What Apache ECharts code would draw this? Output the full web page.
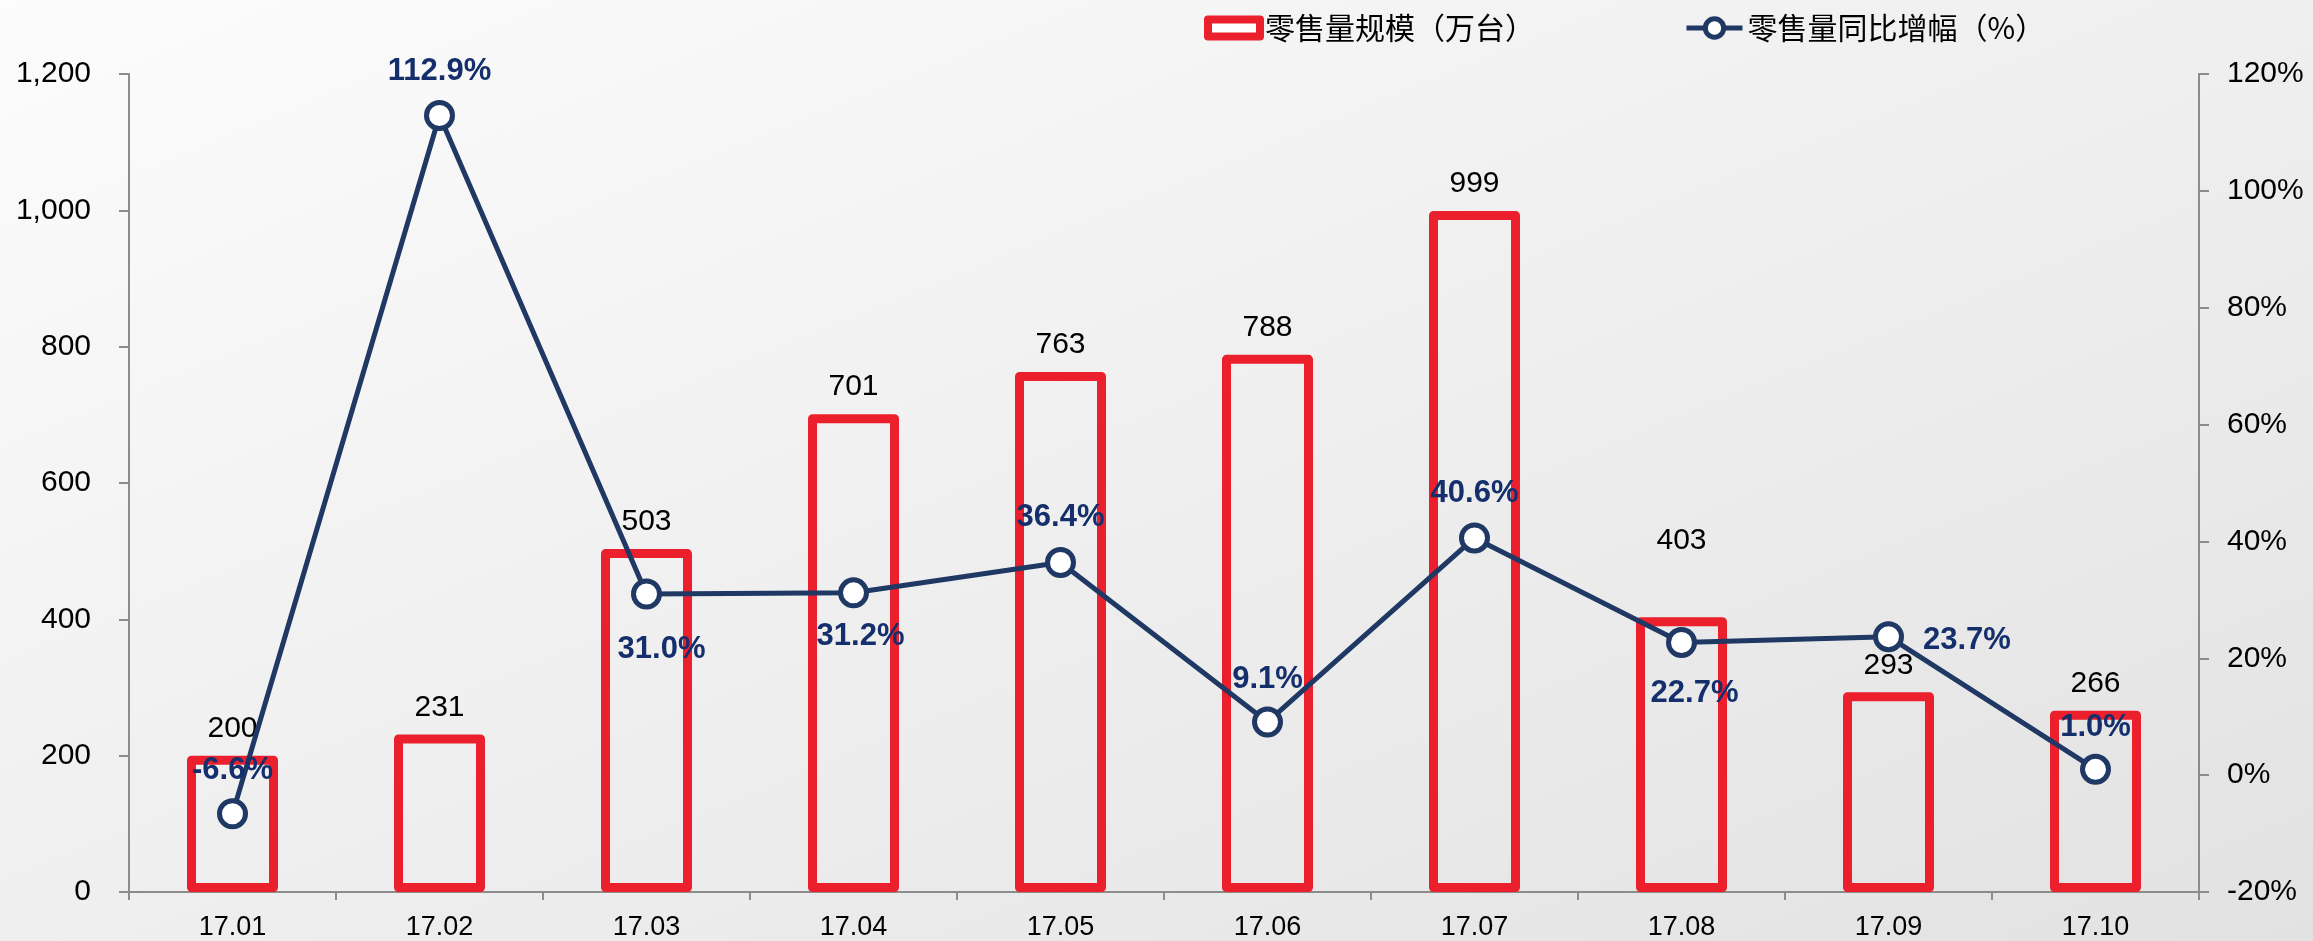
<!DOCTYPE html>
<html>
<head>
<meta charset="utf-8">
<script src="https://cdn.jsdelivr.net/npm/echarts@6/dist/echarts.min.js"></script>
<style>
html, body {
    margin: 0;
    padding: 0;
    width: 2313px;
    height: 941px;
    overflow: hidden;
    /* 浅灰渐变背景 */
    background: linear-gradient(to bottom right, #fcfcfc, #e2e2e2);
}
#main {
    width: 2313px;
    height: 941px;
}
</style>
</head>
<body>
<div id="main"></div>
<script>
// 月份
var months = ["17.01", "17.02", "17.03", "17.04", "17.05", "17.06", "17.07", "17.08", "17.09", "17.10"];
// 零售量规模（万台）
var retailVolume = [200, 231, 503, 701, 763, 788, 999, 403, 293, 266];
// 零售量同比增幅（%）
var yoyGrowth = [-6.6, 112.9, 31.0, 31.2, 36.4, 9.1, 40.6, 22.7, 23.7, 1.0];

var legendNames = ["零售量规模（万台）", "零售量同比增幅（%）"];

var RED = "#ec1f2d";
var NAVY = "#1f3864";
var LABEL_NAVY = "#142f6b";
var FONT = "Liberation Sans, Arial, sans-serif";
var CJK = "Noto Sans CJK SC";

// 折线标签的位置（避开折线和柱子）
var linePlace = [
    { position: "top", distance: 12 },
    { position: "top", distance: 13 },
    { position: "bottom", distance: 24, offset: [15, 0] },
    { position: "bottom", distance: 13, offset: [7, 0] },
    { position: "top", distance: 14 },
    { position: "top", distance: 12 },
    { position: "top", distance: 13 },
    { position: "bottom", distance: 20, offset: [13, 0] },
    { position: "right", distance: 19, offset: [0, 4] },
    { position: "top", distance: 11 }
];

var barData = retailVolume.map(function (v, i) {
    var item = { value: v };
    // 17.08 的数值标签被抬高了
    if (i === 7) {
        item.label = { offset: [0, -50] };
    }
    return item;
});

var lineData = yoyGrowth.map(function (v, i) {
    return { value: v, label: linePlace[i] };
});

var chart = echarts.init(document.getElementById("main"));

var legendText = { color: "#000", fontSize: 30, fontFamily: CJK };

var option = {
    backgroundColor: "transparent",
    animation: false,
    textStyle: { fontFamily: FONT },
    // 两个图例图标大小不同，所以分成两个 legend
    legend: [
        {
            left: 1204,
            top: 13,
            padding: 0,
            itemWidth: 52,
            itemHeight: 17,
            textStyle: legendText,
            data: [{
                name: legendNames[0],
                icon: "rect",
                itemStyle: { color: "#fff", borderColor: RED, borderWidth: 8 }
            }]
        },
        {
            left: 1684,
            top: 13,
            padding: 0,
            itemWidth: 56,
            itemHeight: 23,
            textStyle: legendText,
            data: [{
                name: legendNames[1],
                lineStyle: { color: NAVY, width: 5 },
                itemStyle: { color: "#fff", borderColor: NAVY, borderWidth: 5 }
            }]
        }
    ],
    grid: {
        left: 129,
        right: 114,
        top: 74,
        bottom: 49
    },
    xAxis: {
        type: "category",
        data: months,
        boundaryGap: true,
        axisLine: { lineStyle: { color: "#8c8c8c", width: 2 } },
        axisTick: { show: true, length: 8, lineStyle: { color: "#8c8c8c", width: 2 } },
        axisLabel: { color: "#000", fontSize: 27, margin: 22, fontFamily: FONT },
        splitLine: { show: false }
    },
    yAxis: [
        {
            type: "value",
            min: 0,
            max: 1200,
            interval: 200,
            axisLine: { show: true, lineStyle: { color: "#8c8c8c", width: 2 } },
            axisTick: { show: true, length: 10, lineStyle: { color: "#8c8c8c", width: 2 } },
            axisLabel: {
                color: "#000",
                fontSize: 30,
                margin: 38,
                fontFamily: FONT,
                formatter: function (v) {
                    return v.toLocaleString("en-US");
                }
            },
            splitLine: { show: false }
        },
        {
            type: "value",
            min: -20,
            max: 120,
            interval: 20,
            axisLine: { show: true, lineStyle: { color: "#8c8c8c", width: 2 } },
            axisTick: { show: true, length: 10, lineStyle: { color: "#8c8c8c", width: 2 } },
            axisLabel: {
                color: "#000",
                fontSize: 30,
                margin: 28,
                fontFamily: FONT,
                formatter: "{value}%"
            },
            splitLine: { show: false }
        }
    ],
    series: [
        {
            name: legendNames[0],
            type: "bar",
            yAxisIndex: 0,
            barWidth: 91,
            data: barData,
            itemStyle: {
                color: "rgba(0,0,0,0)",
                borderColor: RED,
                borderWidth: 9,
                borderJoin: "round"
            },
            label: {
                show: true,
                position: "top",
                distance: 12,
                color: "#000",
                fontSize: 30,
                fontFamily: FONT
            },
            z: 2
        },
        {
            name: legendNames[1],
            type: "line",
            yAxisIndex: 1,
            data: lineData,
            symbol: "circle",
            symbolSize: 26,
            lineStyle: { color: NAVY, width: 5 },
            itemStyle: { color: "#fff", borderColor: NAVY, borderWidth: 5 },
            label: {
                show: true,
                color: LABEL_NAVY,
                fontSize: 31,
                fontWeight: "bold",
                fontFamily: FONT,
                formatter: function (p) {
                    return p.value.toFixed(1) + "%";
                }
            },
            z: 3
        }
    ]
};

chart.setOption(option);
</script>
</body>
</html>
